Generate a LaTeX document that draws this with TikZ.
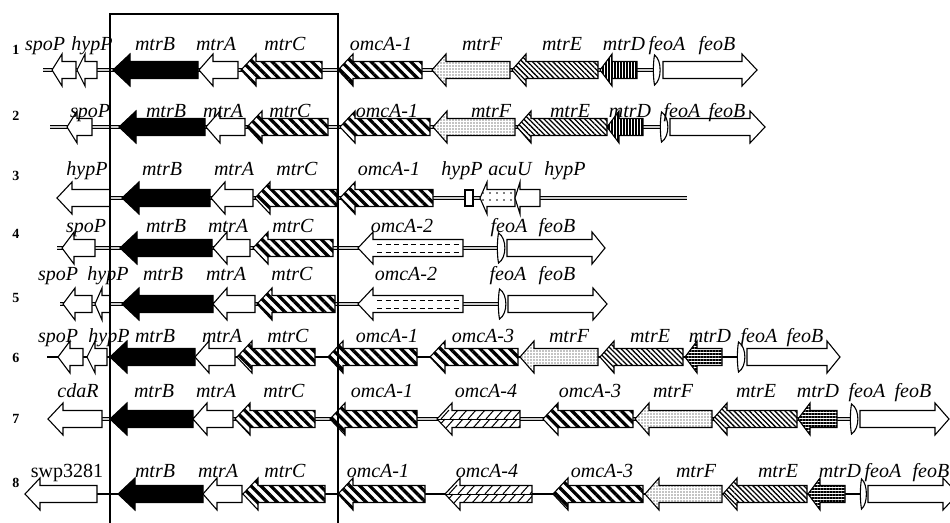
\documentclass[tikz,border=0pt]{standalone}
\usepackage{fontspec}
\setmainfont{Liberation Serif}
\usetikzlibrary{patterns.meta}

% left-pointing gene arrow: style, tip x, right end x, centre y, head length
\newcommand{\gL}[5]{\path[#1] (#2,#4) -- ({#2+#5},{#4-16}) -- ({#2+#5},{#4-8.5}) -- (#3,{#4-8.5}) -- (#3,{#4+8.5}) -- ({#2+#5},{#4+8.5}) -- ({#2+#5},{#4+16}) -- cycle;}
% right-pointing gene arrow: style, left end x, tip x, centre y, head length
\newcommand{\gR}[5]{\path[#1] (#2,{#4-8.5}) -- ({#3-#5},{#4-8.5}) -- ({#3-#5},{#4-16}) -- (#3,#4) -- ({#3-#5},{#4+16}) -- ({#3-#5},{#4+8.5}) -- (#2,{#4+8.5}) -- cycle;}
% small lens-shaped feoA
\newcommand{\fA}[3]{\path[wg] ({#1+1.5},{#3-15}) .. controls (#2,{#3-10}) and (#2,{#3+10}) .. ({#1+1.5},{#3+15}) .. controls (#1,{#3+7}) and (#1,{#3-7}) .. cycle;}
% omcA-2: white arrow with two rows of dashes
\newcommand{\dashgene}[4]{\gL{wg}{#1}{#2}{#3}{#4}
  \draw[dash pattern=on 5pt off 3.5pt, line width=1pt] ({#1+#4+4},{#3-4}) -- ({#2-3},{#3-4});
  \draw[dash pattern=on 5pt off 3.5pt, line width=1pt] ({#1+#4+4},{#3+4}) -- ({#2-3},{#3+4});}
% omcA-4: scaled brick pattern clipped to the arrow
\newcommand{\brickgene}[4]{%
  \begin{scope}
    \clip (#1,#3) -- ({#1+#4},{#3-16}) -- ({#1+#4},{#3-8.5}) -- (#2,{#3-8.5}) -- (#2,{#3+8.5}) -- ({#1+#4},{#3+8.5}) -- ({#1+#4},{#3+16}) -- cycle;
    \fill[white] (#1,{#3-17}) rectangle (#2,{#3+17});
    \draw[line width=1pt] (#1,#3) -- (#2,#3);
    \foreach \k in {-1,...,11} {
      \draw[line width=1pt] ({#1+\k*9},{#3+9}) -- ({#1+\k*9+8},{#3});
      \draw[line width=1pt] ({#1+\k*9+4},{#3}) -- ({#1+\k*9+12},{#3-9});
    }
  \end{scope}
  \gL{draw=black, line width=1.1pt}{#1}{#2}{#3}{#4}}

\tikzset{
  wg/.style={draw=black, line width=1.1pt, fill=white},
  bg/.style={draw=black, line width=1.1pt, fill=black},
  thick/.style={draw=black, line width=1.1pt, preaction={fill=white},
    pattern={Lines[angle=-45,distance=7pt,line width=3.3pt]}},
  thin/.style={draw=black, line width=1.1pt, preaction={fill=white},
    pattern={Lines[angle=-45,distance=3.6pt,line width=1.3pt]}},
  dotg/.style={draw=black, line width=1.1pt, preaction={fill=white},
    pattern={Dots[distance=3pt,radius=0.7pt]}},
  sparse/.style={draw=black, line width=1.1pt, preaction={fill=white},
    pattern={Dots[distance=7pt,radius=0.8pt]}},
  vlin/.style={draw=black, line width=1.1pt, preaction={fill=white},
    pattern={Lines[angle=90,distance=3pt,line width=1.1pt]}},
  hlin/.style={draw=black, line width=1.1pt, preaction={fill=white},
    pattern={Lines[angle=0,distance=3pt,line width=1.1pt]}},
  bb/.style={draw=black, line width=0.8pt, double=white!60!gray, double distance=2.2pt},
  sb/.style={draw=black, line width=1.1pt},
  lab/.style={font=\itshape\fontsize{20}{22}\selectfont, anchor=base, inner sep=0pt},
  num/.style={font=\bfseries\fontsize{14}{16}\selectfont, anchor=base, inner sep=0pt},
}

\begin{document}
\begin{tikzpicture}[x=1pt, y=-1pt]
\useasboundingbox[fill=white] (0,0) rectangle (950,522);

% ---------------- row 1 ----------------
\coordinate (b1s) at (43,70); \coordinate (b1e) at (660,70);
\draw[bb] (b1s) -- (b1e);
\gL{wg}{52}{76}{70}{10}
\gL{wg}{77}{97}{70}{8}
\gL{bg}{113}{198}{70}{17}
\gL{wg}{199}{238}{70}{14}
\gL{thick}{241}{322}{70}{15}
\gL{thick}{338}{422}{70}{15}
\gL{dotg}{432}{510}{70}{14}
\gL{thin}{512}{598}{70}{14}
\gL{vlin}{600}{637}{70}{12}
\fA{653}{662}{70}
\gR{wg}{663}{757}{70}{15}
\foreach \x/\t [count=\i] in {45/spoP,92/hypP,155/mtrB,216/mtrA,285/mtrC,381/omcA-1,482/mtrF,562/mtrE,624/mtrD,667/feoA,717/feoB}
  \node[lab] (r1-\i) at (\x,50) {\t};

% ---------------- row 2 ----------------
\coordinate (b2s) at (50,127); \coordinate (b2e) at (668,127);
\draw[bb] (b2s) -- (b2e);
\gL{wg}{67}{92}{127}{10}
\gL{bg}{119}{205}{127}{17}
\gL{wg}{206}{245}{127}{14}
\gL{thick}{247}{328}{127}{15}
\gL{thick}{340}{430}{127}{15}
\gL{dotg}{433}{515}{127}{14}
\gL{thin}{517}{607}{127}{14}
\gL{vlin}{607}{643}{127}{12}
\fA{660}{670}{127}
\gR{wg}{670}{765}{127}{15}
\foreach \x/\t [count=\i] in {90/spoP,166/mtrB,223/mtrA,290/mtrC,387/omcA-1,491/mtrF,570/mtrE,630/mtrD,682/feoA,727/feoB}
  \node[lab] (r2-\i) at (\x,117) {\t};

% ---------------- row 3 ----------------
\coordinate (b3s) at (60,198); \coordinate (b3e) at (687,198);
\draw[bb] (b3s) -- (b3e);
\gL{wg}{57}{110}{198}{15}
\gL{bg}{122}{210}{198}{17}
\gL{wg}{211}{253}{198}{14}
\gL{thick}{255}{337}{198}{15}
\gL{thick}{340}{433}{198}{15}
\path[wg] (465,190) rectangle (473,206);
\gL{sparse}{480}{515}{198}{7}
\gL{wg}{515}{540}{198}{5}
\foreach \x/\t [count=\i] in {87/hypP,162/mtrB,234/mtrA,297/mtrC,389/omcA-1,462/hypP,510/acuU,565/hypP}
  \node[lab] (r3-\i) at (\x,175) {\t};

% ---------------- row 4 ----------------
\coordinate (b4s) at (57,248); \coordinate (b4e) at (500,248);
\draw[bb] (b4s) -- (b4e);
\gL{wg}{62}{95}{248}{12}
\gL{bg}{120}{212}{248}{17}
\gL{wg}{213}{250}{248}{14}
\gL{thick}{253}{333}{248}{15}
\dashgene{358}{463}{248}{15}
\fA{497}{507}{248}
\gR{wg}{507}{605}{248}{13}
\foreach \x/\t [count=\i] in {86/spoP,166/mtrB,228/mtrA,293/mtrC,402/omcA-2,509/feoA,557/feoB}
  \node[lab] (r4-\i) at (\x,232) {\t};

% ---------------- row 5 ----------------
\coordinate (b5s) at (60,304); \coordinate (b5e) at (501,304);
\draw[bb] (b5s) -- (b5e);
\gL{wg}{63}{92}{304}{12}
\gL{wg}{95}{110}{304}{7}
\gL{bg}{122}{213}{304}{17}
\gL{wg}{213}{255}{304}{14}
\gL{thick}{257}{335}{304}{15}
\dashgene{358}{463}{304}{15}
\fA{498}{508}{304}
\gR{wg}{508}{607}{304}{14}
\foreach \x/\t [count=\i] in {58/spoP,108/hypP,163/mtrB,226/mtrA,292/mtrC,406/omcA-2,508/feoA,557/feoB}
  \node[lab] (r5-\i) at (\x,280) {\t};

% ---------------- row 6 ----------------
\coordinate (b6s) at (47,357); \coordinate (b6e) at (740,357);
\draw[sb] (b6s) -- (b6e);
\gL{wg}{58}{83}{357}{12}
\gL{wg}{87}{107}{357}{8}
\gL{bg}{110}{195}{357}{17}
\gL{wg}{195}{235}{357}{14}
\gL{thick}{237}{315}{357}{15}
\gL{thick}{328}{417}{357}{15}
\gL{thick}{430}{518}{357}{15}
\gL{dotg}{520}{598}{357}{14}
\gL{thin}{600}{683}{357}{14}
\gL{hlin}{685}{722}{357}{12}
\fA{737}{747}{357}
\gR{wg}{747}{840}{357}{13}
\foreach \x/\t [count=\i] in {58/spoP,109/hypP,155/mtrB,222/mtrA,288/mtrC,387/omcA-1,483/omcA-3,569/mtrF,650/mtrE,710/mtrD,759/feoA,805/feoB}
  \node[lab] (r6-\i) at (\x,342) {\t};

% ---------------- row 7 ----------------
\coordinate (b7s) at (100,419); \coordinate (b7e) at (853,419);
\draw[bb] (b7s) -- (b7e);
\gL{wg}{48}{102}{419}{15}
\gL{bg}{110}{193}{419}{17}
\gL{wg}{193}{233}{419}{14}
\gL{thick}{235}{315}{419}{15}
\gL{thick}{330}{417}{419}{15}
\brickgene{437}{520}{419}{15}
\gL{thick}{543}{633}{419}{15}
\gL{dotg}{635}{712}{419}{14}
\gL{thin}{713}{797}{419}{14}
\gL{hlin}{798}{837}{419}{12}
\fA{850}{860}{419}
\gR{wg}{860}{949}{419}{14}
\foreach \x/\t [count=\i] in {78/cdaR,154/mtrB,216/mtrA,284/mtrC,382/omcA-1,486/omcA-4,590/omcA-3,673/mtrF,756/mtrE,818/mtrD,867/feoA,913/feoB}
  \node[lab] (r7-\i) at (\x,397) {\t};

% ---------------- row 8 ----------------
\coordinate (b8s) at (95,494); \coordinate (b8e) at (862,494);
\draw[sb] (b8s) -- (b8e);
\gL{wg}{25}{97}{494}{15}
\gL{bg}{118}{203}{494}{17}
\gL{wg}{203}{242}{494}{14}
\gL{thick}{243}{325}{494}{15}
\gL{thick}{338}{425}{494}{15}
\brickgene{445}{532}{494}{15}
\gL{thick}{553}{643}{494}{15}
\gL{dotg}{645}{722}{494}{14}
\gL{thin}{723}{807}{494}{14}
\gL{hlin}{808}{845}{494}{12}
\fA{860}{868}{494}
\gR{wg}{868}{958}{494}{15}
\node[lab, font=\fontsize{20}{22}\selectfont] (r8-0) at (67,477) {swp3281};
\foreach \x/\t [count=\i] in {155/mtrB,218/mtrA,285/mtrC,378/omcA-1,487/omcA-4,602/omcA-3,696/mtrF,778/mtrE,840/mtrD,883/feoA,931/feoB}
  \node[lab] (r8-\i) at (\x,477) {\t};

% ---------------- row numbers ----------------
\foreach \y/\n in {54/1,120/2,180/3,238/4,302/5,362/6,423/7,487/8}
  \node[num] (n\n) at (16,\y) {\n};

% ---------------- frame round the conserved mtr cluster ----------------
\coordinate (fbl) at (110,525); \coordinate (ftl) at (110,14);
\coordinate (ftr) at (338,14); \coordinate (fbr) at (338,525);
\draw[line width=1.4pt] (fbl) -- (ftl) -- (ftr) -- (fbr);
\end{tikzpicture}
\end{document}
